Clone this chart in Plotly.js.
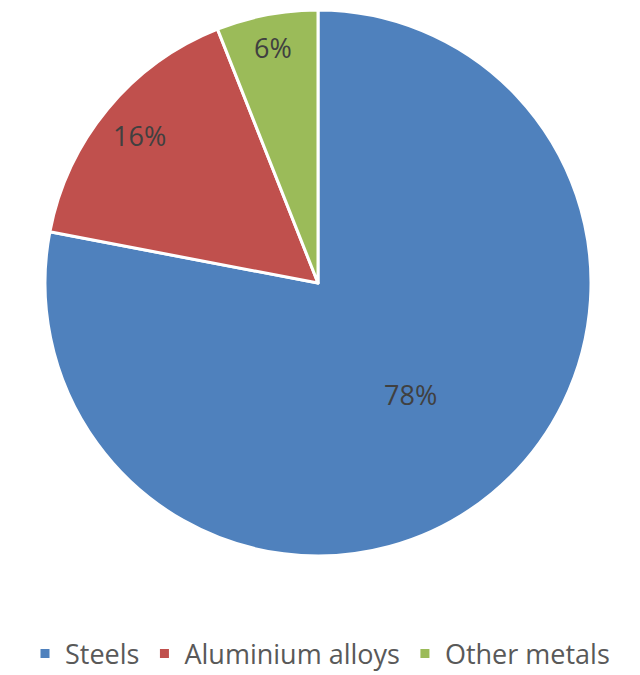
<!DOCTYPE html>
<html><head><meta charset="utf-8">
<script src="https://cdn.plot.ly/plotly-3.0.1.min.js"></script>
<style>html,body{margin:0;padding:0;background:#fff;}#chart{width:640px;height:675px;}</style>
</head><body><div id="chart"></div>
<script>
const categories = ["Steels", "Aluminium alloys", "Other metals"];
const shares = [78, 16, 6];
const colors = ["#4F81BD", "#C0504D", "#9BBB59"];

// layout geometry (pixels), style only
const W = 640, H = 675;
const pieBox = {left: 45, right: 591, top: 10, bottom: 556};
const cx = 318, cy = 283, R = 273;
const labelRadius = [0.53, 0.85, 0.88];

const total = shares.reduce((a, b) => a + b, 0);
let cum = 0;
const annotations = shares.map((v, i) => {
  const mid = (cum + v / 2) / total * 2 * Math.PI;
  cum += v;
  const px = cx + Math.sin(mid) * R * labelRadius[i];
  const py = cy - Math.cos(mid) * R * labelRadius[i];
  return {
    xref: "paper", yref: "paper",
    x: px / W, y: 1 - py / H,
    xanchor: "center", yanchor: "middle",
    text: Math.round(v / total * 100) + "%",
    showarrow: false,
    font: {family: "Open Sans, Liberation Sans, sans-serif", size: 27, color: "#404040"}
  };
});

const trace = {
  type: "pie",
  labels: categories,
  values: shares,
  sort: false,
  direction: "clockwise",
  rotation: 0,
  domain: {x: [pieBox.left / W, pieBox.right / W], y: [1 - pieBox.bottom / H, 1 - pieBox.top / H]},
  marker: {colors: colors, line: {color: "#ffffff", width: 3}},
  textinfo: "none",
  hoverinfo: "none"
};
const layout = {
  width: W, height: H,
  margin: {l: 0, r: 0, t: 0, b: 0, autoexpand: false},
  paper_bgcolor: "#ffffff",
  showlegend: true,
  annotations: annotations,
  legend: {orientation: "h", x: 0.5, xanchor: "center", y: 1 - 654 / H, yanchor: "middle",
    font: {family: "Open Sans, Liberation Sans, sans-serif", size: 27, color: "#595959"},
    itemwidth: 30, traceorder: "normal"}
};
Plotly.newPlot("chart", [trace], layout, {displayModeBar: false, staticPlot: true});
</script></body></html>
